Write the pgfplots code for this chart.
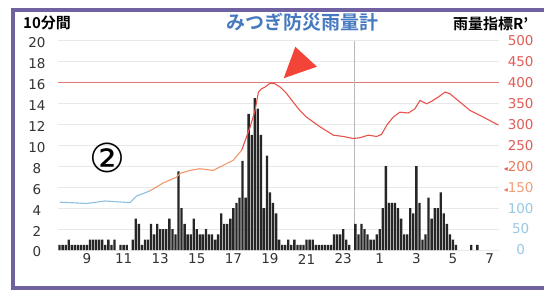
\documentclass[border=0pt]{standalone}
\usepackage{pgfplots}
\pgfplotsset{compat=1.18}
\usepackage{pgfplotstable}
\usepackage{fontspec}
\setmainfont{DejaVu Sans}
\newfontfamily\cjk{Noto Sans CJK JP}[BoldFont={Noto Sans CJK JP Bold}]
\definecolor{framec}{RGB}{112,98,160}
\definecolor{lblue}{RGB}{140,192,226}
\definecolor{lorange}{RGB}{240,152,104}
\definecolor{lred}{RGB}{232,84,74}
\definecolor{tred}{RGB}{226,92,86}
\definecolor{torange}{RGB}{236,120,90}
\definecolor{tor2}{RGB}{240,160,120}
\definecolor{tblue}{RGB}{150,200,228}
\definecolor{ttitle}{RGB}{70,122,192}
\definecolor{tri}{RGB}{242,68,56}
\definecolor{hlinec}{RGB}{226,120,116}

% 10-minute rainfall, x = index of 10-minute step from 7:30
\pgfplotstableread{
i v
0 0.5
1 0.5
2 0.5
3 1.0
4 0.5
5 0.5
6 0.5
7 0.5
8 0.5
9 0.5
10 1.0
11 1.0
12 1.0
13 1.0
14 1.0
15 0.5
16 1.0
17 0.5
18 1.0
20 0.5
21 0.5
22 0.5
24 1.0
25 3.0
26 2.5
27 0.5
28 1.0
29 1.0
30 2.5
31 1.5
32 2.5
33 2.0
34 2.0
35 2.0
36 3.0
37 2.0
38 1.5
39 7.5
40 4.0
41 2.5
42 1.5
43 1.5
44 3.0
45 2.0
46 1.5
47 1.5
48 2.0
49 1.5
50 1.5
51 1.0
52 1.5
53 3.5
54 2.5
55 2.5
56 3.0
57 4.0
58 4.5
59 5.0
60 8.5
61 5.0
62 13.0
63 11.0
64 14.5
65 13.5
66 11.0
67 4.0
68 9.0
69 5.5
70 4.5
71 3.5
72 1.0
73 0.5
74 0.5
75 1.0
76 0.5
77 1.0
78 0.5
79 0.5
80 0.5
81 1.0
82 1.0
83 1.0
84 0.5
85 0.5
86 0.5
87 0.5
88 0.5
89 0.5
90 1.5
91 1.5
92 1.5
93 2.0
94 1.0
95 0.5
97 2.5
98 1.5
99 2.5
100 2.0
101 1.5
102 1.0
103 1.0
104 1.5
105 2.0
106 4.0
107 8.0
108 4.5
109 4.5
110 4.5
111 4.0
112 3.0
113 1.5
114 1.5
115 4.0
116 3.5
117 8.0
118 4.5
119 1.0
120 1.5
121 5.0
122 3.0
123 4.0
124 4.0
125 5.5
126 3.5
127 2.5
128 1.5
129 1.0
130 0.5
135 0.5
137 0.5
}\rain

\pgfplotstableread{
i r
0.12 114
3.4 113
8.9 111
14.9 117
19.1 115
23.1 113
25.3 129
29.6 141
}\rblue

\pgfplotstableread{
i r
29.6 141
34.0 160
38.4 174
39.5 183
42.8 190
46.0 194
50.4 190
53.6 202
56.9 214
59.7 238
}\rorange

\pgfplotstableread{
i r
59.7 238
62.5 294
64.1 333
65.2 377
66.3 385
67.4 389
69.0 398
70.3 398
72.3 389
74.5 373
76.6 353
78.8 333
81.0 317
85.4 294
89.8 274
93.0 271
96.3 266
98.5 268
101.2 274
104.0 271
105.6 276
107.3 298
109.4 317
111.6 329
114.4 327
116.5 337
118.2 357
120.4 349
122.0 355
124.2 365
126.4 377
128.0 373
131.3 353
134.6 333
139.0 317
143.9 298
}\rred

\begin{document}
\begin{tikzpicture}
\useasboundingbox (0,0) rectangle (544pt,290pt);
\fill[white] (0,0) rectangle (544pt,290pt);
\draw[framec, line width=3.5pt] (550pt,2pt) -- (13pt,2pt) -- (13pt,280pt) -- (550pt,280pt);

\begin{axis}[
  at={(58.3pt,40pt)}, anchor=south west, scale only axis,
  width=440.4pt, height=209.5pt,
  xmin=-0.42, xmax=144, ymin=0, ymax=20,
  axis line style={draw=none}, major tick length=0pt,
  xtick={9,21,...,141}, xticklabels={9,11,13,15,17,19,21,23,1,3,5,7},
  ytick={0,2,...,20},
  ymajorgrids, grid style={gray!18, line width=0.4pt},
  tick label style={font=\fontsize{13.5}{14}\selectfont, text=black!80},
  xticklabel style={anchor=center, yshift=-9pt},
  yticklabel style={anchor=center, xshift=-21.3pt, yshift=-2pt},
  /pgf/number format/assume math mode=true,
  clip=false,
]
\addplot[hlinec, line width=0.8pt] coordinates {(-0.42,16) (144,16)};
\addplot[gray!55, line width=0.6pt] coordinates {(96.6,0) (96.6,20)};
\addplot[ybar, bar width=0.76, bar shift=0pt, fill=black!85, draw=none] table[x=i,y=v] {\rain};
\fill[tri] (axis cs:73.5,16.4) -- (axis cs:77.3,19.4) -- (axis cs:84.4,17.5) -- cycle;
\end{axis}

\begin{axis}[
  at={(58.3pt,40pt)}, anchor=south west, scale only axis,
  width=440.4pt, height=209.5pt,
  xmin=-0.42, xmax=144, ymin=0, ymax=500,
  axis y line*=right, axis x line=none,
  axis line style={draw=none}, major tick length=0pt,
  ytick={0,50,...,500},
  yticklabels={\textcolor{tblue}{0},\textcolor{tblue}{50},\textcolor{tblue}{100},
    \llap{\textcolor{torange}{\fontsize{8}{8}\selectfont◂}}\textcolor{tor2}{150},
    \llap{\textcolor{tred}{\fontsize{8}{8}\selectfont◂}}\textcolor{torange}{200},
    \textcolor{tred}{250},\textcolor{tred}{300},\textcolor{tred}{350},\textcolor{tred}{400},\textcolor{tred}{450},\textcolor{tred}{500}},
  yticklabel style={anchor=center, xshift=22pt, font=\fontsize{13.5}{14}\selectfont},
  clip=false,
]
\addplot[lblue, line width=1.1pt] table[x=i,y=r] {\rblue};
\addplot[lorange, line width=1.1pt] table[x=i,y=r] {\rorange};
\addplot[lred, line width=1.1pt] table[x=i,y=r] {\rred};
\end{axis}

\node[font=\fontsize{40}{40}\selectfont, inner sep=0pt] at (107.5pt,132pt) {②};
\node[ttitle, font=\cjk\bfseries\fontsize{19}{19}\selectfont, inner sep=0pt] at (302pt,268pt) {みつぎ防災雨量計};
\node[anchor=west, font=\cjk\bfseries\fontsize{15}{15}\selectfont, inner sep=0pt] at (23pt,267pt) {10分間};
\node[anchor=west, font=\cjk\bfseries\fontsize{15}{15}\selectfont, inner sep=0pt] at (453pt,266pt) {雨量指標R’};
\end{tikzpicture}
\end{document}
